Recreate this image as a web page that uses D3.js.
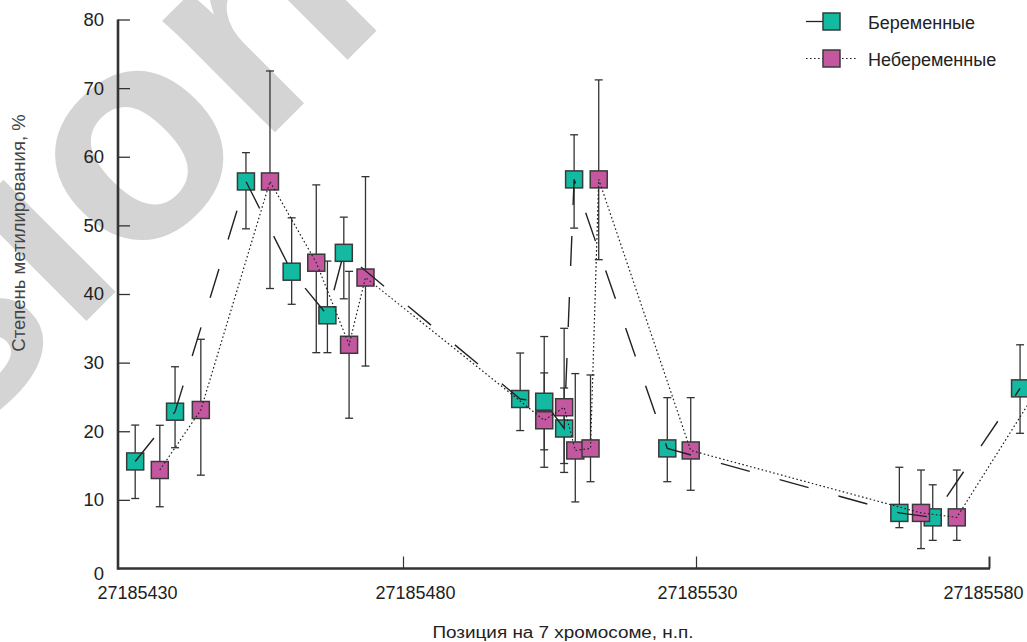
<!DOCTYPE html>
<html>
<head>
<meta charset="utf-8">
<script src="https://cdn.jsdelivr.net/npm/d3@7"></script>
<style>
  body { margin: 0; background: #fff; }
  text { font-family: "Liberation Sans", Arial, sans-serif; }
</style>
</head>
<body>
<div id="chart"></div>
<script>
// positions on chromosome 7 (offset from 27185000) and methylation, %
var pregPos = [434.3, 441.1, 453.2, 461.0, 467.1, 469.9, 500.0, 504.1, 507.5, 509.2, 525.1, 564.7, 570.4, 585.3];
var pregVal = [15.6, 22.85, 56.4, 43.25, 36.9, 46.0, 24.7, 24.3, 20.4, 56.7, 17.5, 8.1, 7.45, 26.25];
var pregLo  = [10.2, 17.6, 49.5, 38.5, 31.45, 39.3, 20.1, 14.75, 15.3, 49.6, 12.65, 5.95, 4.1, 19.7];
var pregHi  = [20.9, 29.4, 60.6, 51.1, 44.8, 51.2, 31.4, 33.8, 26.3, 63.2, 24.9, 14.75, 12.2, 32.6];

var nonPos = [438.5, 445.5, 457.3, 465.2, 470.8, 473.6, 504.1, 507.5, 509.4, 512.0, 513.4, 529.1, 568.4, 574.5, 589.6];
var nonVal = [14.35, 23.1, 56.4, 44.56, 32.6, 42.4, 21.6, 23.5, 17.2, 17.5, 56.7, 17.2, 8.1, 7.45, 27.9];
var nonLo  = [9.0, 13.6, 40.8, 31.45, 21.9, 29.5, 17.3, 14.0, 9.7, 12.65, 45.0, 11.4, 2.9, 4.1, 20.5];
var nonHi  = [20.87, 33.4, 72.5, 55.9, 43.3, 57.1, 28.5, 35.0, 28.4, 28.2, 71.2, 24.9, 14.35, 14.35, 35.0];

var posBase = 27185000;
var xTicks = [27185430, 27185480, 27185530, 27185580];
var yTicks = [0, 10, 20, 30, 40, 50, 60, 70, 80];

var seriesNames = ["Беременные", "Небеременные"];
var seriesColors = ["#13b9a1", "#c4579f"];

var width = 1027, height = 642;

var svg = d3.select("#chart").append("svg")
	.attr("width", width)
	.attr("height", height);

//watermark in the background
svg.append("text")
	.attr("transform", "translate(140,157) rotate(-45)")
	.attr("x", -792)
	.attr("y", 78)
	.style("font-size", "300px")
	.style("font-weight", "bold")
	.style("fill", "#d4d4d4")
	.text("version");

//scales
var xScale = d3.scaleLinear()
	.domain([27185430, 27185580])
	.range([110, 989]);

var yScale = d3.scaleLinear()
	.domain([0, 80])
	.range([568.5, 19.5]);

//build point lists
function makePoints(pos, val, lo, hi) {
	var arr = [];
	for (var i = 0; i < pos.length; i++) {
		arr.push({ x: posBase + pos[i], v: val[i], lo: lo[i], hi: hi[i] });
	}
	return arr;
}
var preg = makePoints(pregPos, pregVal, pregLo, pregHi);
var non = makePoints(nonPos, nonVal, nonLo, nonHi);

//y axis, ticks pointing inside
var yAxis = d3.axisLeft(yScale)
	.tickValues(yTicks)
	.tickSizeInner(-12)
	.tickSizeOuter(0)
	.tickPadding(14);

var gy = svg.append("g")
	.attr("transform", "translate(118,0)")
	.call(yAxis);
gy.select(".domain").remove();
gy.selectAll(".tick line").attr("stroke", "#333").attr("stroke-width", 1.3);
gy.selectAll(".tick text")
	.style("font-size", "18.5px")
	.style("font-family", "Liberation Sans, Arial, sans-serif")
	.attr("fill", "#222");
gy.selectAll(".tick").filter(function(d) { return d === 0; })
	.select("text").attr("y", 5);
gy.selectAll(".tick").filter(function(d) { return d === 0; })
	.select("line").remove();

//x axis
var labelNudge = [27, 12, 1, -6];
var xAxis = d3.axisBottom(xScale)
	.tickValues(xTicks)
	.tickFormat(d3.format("d"))
	.tickSizeInner(-12)
	.tickSizeOuter(0)
	.tickPadding(18);

var gx = svg.append("g")
	.attr("transform", "translate(0," + yScale(0) + ")")
	.call(xAxis);
gx.select(".domain").remove();
gx.selectAll(".tick line").attr("stroke", "#333").attr("stroke-width", 1.2);
gx.selectAll(".tick").filter(function(d, i) { return i === 0; }).select("line").remove();
gx.selectAll(".tick").filter(function(d, i) { return i === xTicks.length - 1; })
	.select("line").attr("stroke-width", 2);
gx.selectAll(".tick text")
	.attr("dx", function(d, i) { return labelNudge[i]; })
	.style("font-size", "18px")
	.style("font-family", "Liberation Sans, Arial, sans-serif")
	.attr("fill", "#222");

//thick axis lines
svg.append("line")
	.attr("x1", 118).attr("x2", 118)
	.attr("y1", yScale(80)).attr("y2", yScale(0) + 1.2)
	.attr("stroke", "#333").attr("stroke-width", 2.6);
svg.append("line")
	.attr("x1", 118).attr("x2", xScale(27185580) + 1)
	.attr("y1", yScale(0)).attr("y2", yScale(0))
	.attr("stroke", "#333").attr("stroke-width", 2.6);

//axis titles
svg.append("text")
	.attr("transform", "translate(25," + 233 + ") rotate(-90)")
	.attr("text-anchor", "middle")
	.style("font-size", "18.5px")
	.style("fill", "#444")
	.text("Степень метилирования, %");

svg.append("text")
	.attr("x", 563)
	.attr("y", 638)
	.attr("text-anchor", "middle")
	.attr("textLength", 261)
	.attr("lengthAdjust", "spacingAndGlyphs")
	.style("font-size", "16px")
	.style("fill", "#222")
	.text("Позиция на 7 хромосоме, н.п.");

//error bars, behind the squares
function errorBars(data) {
	var g = svg.append("g").attr("class", "err");
	g.selectAll("line.v").data(data).enter().append("line")
		.attr("x1", function(d) { return xScale(d.x); })
		.attr("x2", function(d) { return xScale(d.x); })
		.attr("y1", function(d) { return yScale(d.lo); })
		.attr("y2", function(d) { return yScale(d.hi); })
		.attr("stroke", "#333").attr("stroke-width", 1.3);
	g.selectAll("line.top").data(data).enter().append("line")
		.attr("x1", function(d) { return xScale(d.x) - 4; })
		.attr("x2", function(d) { return xScale(d.x) + 4; })
		.attr("y1", function(d) { return yScale(d.hi); })
		.attr("y2", function(d) { return yScale(d.hi); })
		.attr("stroke", "#333").attr("stroke-width", 1.3);
	g.selectAll("line.bot").data(data).enter().append("line")
		.attr("x1", function(d) { return xScale(d.x) - 4; })
		.attr("x2", function(d) { return xScale(d.x) + 4; })
		.attr("y1", function(d) { return yScale(d.lo); })
		.attr("y2", function(d) { return yScale(d.lo); })
		.attr("stroke", "#333").attr("stroke-width", 1.3);
}
errorBars(preg);
errorBars(non);

//square markers
var sq = 17;
function squares(data, color) {
	svg.append("g").selectAll("rect").data(data).enter().append("rect")
		.attr("x", function(d) { return xScale(d.x) - sq / 2; })
		.attr("y", function(d) { return yScale(d.v) - sq / 2; })
		.attr("width", sq)
		.attr("height", sq)
		.attr("fill", color)
		.attr("stroke", "#3a3a3a")
		.attr("stroke-width", 1.5);
}
squares(preg, seriesColors[0]);
squares(non, seriesColors[1]);

//connecting lines, drawn over the squares
var line = d3.line()
	.x(function(d) { return xScale(d.x); })
	.y(function(d) { return yScale(d.v); });

svg.append("path")
	.datum(preg)
	.attr("d", line)
	.attr("fill", "none")
	.attr("stroke", "#222")
	.attr("stroke-width", 1.4)
	.attr("stroke-dasharray", "30,31");

svg.append("path")
	.datum(non)
	.attr("d", line)
	.attr("fill", "none")
	.attr("stroke", "#222")
	.attr("stroke-width", 1.2)
	.attr("stroke-dasharray", "1.6,2.4");

//legend
var legY = [21.5, 58.5];
for (var i = 0; i < 2; i++) {
	if (i === 0) {
		svg.append("line")
			.attr("x1", 806).attr("x2", 823)
			.attr("y1", legY[i]).attr("y2", legY[i])
			.attr("stroke", "#222").attr("stroke-width", 1.3);
	} else {
		svg.append("line")
			.attr("x1", 806).attr("x2", 856)
			.attr("y1", legY[i]).attr("y2", legY[i])
			.attr("stroke", "#222").attr("stroke-width", 1.2)
			.attr("stroke-dasharray", "1.6,2.4");
	}
	svg.append("rect")
		.attr("x", 823)
		.attr("y", legY[i] - 8.5)
		.attr("width", sq)
		.attr("height", sq)
		.attr("fill", seriesColors[i])
		.attr("stroke", "#3a3a3a")
		.attr("stroke-width", 1.5);
	svg.append("text")
		.attr("x", 868)
		.attr("y", legY[i] + 7)
		.style("font-size", "18px")
		.style("fill", "#222")
		.text(seriesNames[i]);
}
</script>
</body>
</html>
